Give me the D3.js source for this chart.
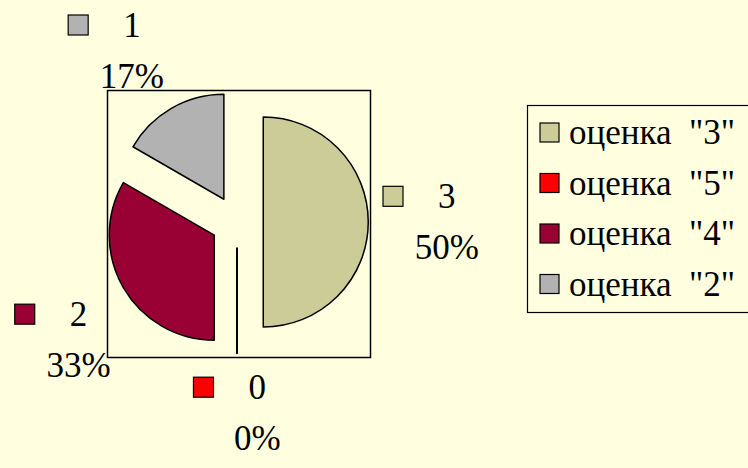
<!DOCTYPE html>
<html>
<head>
<meta charset="utf-8">
<script src="https://cdn.jsdelivr.net/npm/d3@7"></script>
</head>
<body style="margin:0">
<svg id="chart"></svg>
<script>
// данные диаграммы
const categories = ['оценка\u00A0\u00A0"3"', 'оценка\u00A0\u00A0"5"', 'оценка\u00A0\u00A0"4"', 'оценка\u00A0\u00A0"2"'];
const values = [3, 0, 2, 1];
const colors = ['#CCCC99', '#FF0000', '#990033', '#B2B2B2'];

const width = 748, height = 468;
const fontSize = 35;
const fontFamily = '"Liberation Serif", "Times New Roman"';

// область построения
const plot = { x: 107, y: 90, w: 263, h: 267 };
const cx = 237, cy = 222;
const radius = 105;
const explode = radius * 0.25;
const labelRadius = radius + 41;

const svg = d3.select('#chart')
    .attr('width', width)
    .attr('height', height)
    .style('display', 'block');

svg.append('rect')
    .attr('width', width).attr('height', height)
    .attr('fill', '#FFFFE0');

svg.append('rect')
    .attr('x', plot.x + 0.5).attr('y', plot.y + 0.5)
    .attr('width', plot.w).attr('height', plot.h)
    .attr('fill', 'none')
    .attr('stroke', '#000')
    .attr('stroke-width', 1.5);

const total = d3.sum(values);
const pct = d3.format('.0%');

const pie = d3.pie().sort(null).value(d => d.value);
const arcs = pie(values.map((v, i) => ({ value: v, name: categories[i], color: colors[i] })));

const arc = d3.arc().innerRadius(0).outerRadius(radius);

const pieGroup = svg.append('g')
    .attr('transform', `translate(${cx},${cy})`);

pieGroup.selectAll('path')
    .data(arcs)
    .enter()
    .append('path')
    .attr('transform', d => {
        const a = (d.startAngle + d.endAngle) / 2;
        return `translate(${Math.sin(a) * explode},${-Math.cos(a) * explode})`;
    })
    .attr('d', arc)
    .attr('fill', d => d.data.color)
    .attr('stroke', '#000')
    .attr('stroke-width', d => d.value === 0 ? 2 : 1.5)
    .attr('stroke-linejoin', 'round');

function styleText(sel) {
    sel.attr('class', 'lbl')
        .attr('font-family', fontFamily)
        .style('font-family', fontFamily)
        .attr('font-size', fontSize);
}

// ширина цифр и "%" в Times (без замера)
const textWidth = s => s.split('').reduce((w, c) => w + (c === '%' ? 0.833 : 0.5), 0) * fontSize;
const lineGap = 51;

// подписи данных
arcs.forEach(d => {
    const a = (d.startAngle + d.endAngle) / 2;
    const ax = cx + Math.sin(a) * labelRadius;
    const ay = cy - Math.cos(a) * labelRadius;
    const s1 = String(d.value), s2 = pct(d.value / total);
    const w1 = textWidth(s1), w2 = textWidth(s2);
    const swX = -w1 / 2 - 35 - 20;

    // рамка блока в локальных координатах
    const left = Math.min(swX, -w2 / 2), right = Math.max(w1 / 2, w2 / 2);
    const top = -0.891 * fontSize, bottom = lineGap + 0.216 * fontSize;

    const sx = Math.sin(a), sy = -Math.cos(a);
    let tx, ty;
    if (sx > 0.3) tx = ax - left;
    else if (sx < -0.3) tx = ax - right;
    else tx = ax - (left + right) / 2;
    if (sy < -0.3) ty = ay - bottom;
    else if (sy > 0.3) ty = ay - top;
    else ty = ay - (top + bottom) / 2;

    const g = svg.append('g').attr('transform', `translate(${tx},${ty})`);
    g.append('rect')
        .attr('x', swX)
        .attr('y', -22)
        .attr('width', 20).attr('height', 20)
        .attr('fill', d.data.color)
        .attr('stroke', '#000')
        .attr('stroke-width', 1.2);
    g.append('text')
        .attr('text-anchor', 'middle')
        .call(styleText)
        .text(s1);
    g.append('text')
        .attr('text-anchor', 'middle')
        .attr('y', lineGap)
        .call(styleText)
        .text(s2);
});

// легенда
const legend = svg.append('g')
    .attr('transform', 'translate(527,105)');

legend.append('rect')
    .attr('x', 0.5).attr('y', 0.5)
    .attr('width', 260).attr('height', 207)
    .attr('fill', 'none')
    .attr('stroke', '#000')
    .attr('stroke-width', 1.2);

const rows = legend.selectAll('g.row')
    .data(categories.map((c, i) => ({ name: c, color: colors[i] })))
    .enter()
    .append('g')
    .attr('class', 'row')
    .attr('transform', (d, i) => `translate(0,${28 + i * 50.5})`);

rows.append('rect')
    .attr('x', 13).attr('y', -10)
    .attr('width', 19).attr('height', 19)
    .attr('fill', d => d.color)
    .attr('stroke', '#000')
    .attr('stroke-width', 1.2);

rows.append('text')
    .attr('x', 42)
    .attr('y', 11)
    .call(styleText)
    .text(d => d.name);

// повторно применить шрифт после загрузки
if (document.fonts) {
    document.fonts.load(`${fontSize}px "Liberation Serif"`).then(() => {
        svg.selectAll('text.lbl').style('font-family', fontFamily);
    });
}
</script>
</body>
</html>
